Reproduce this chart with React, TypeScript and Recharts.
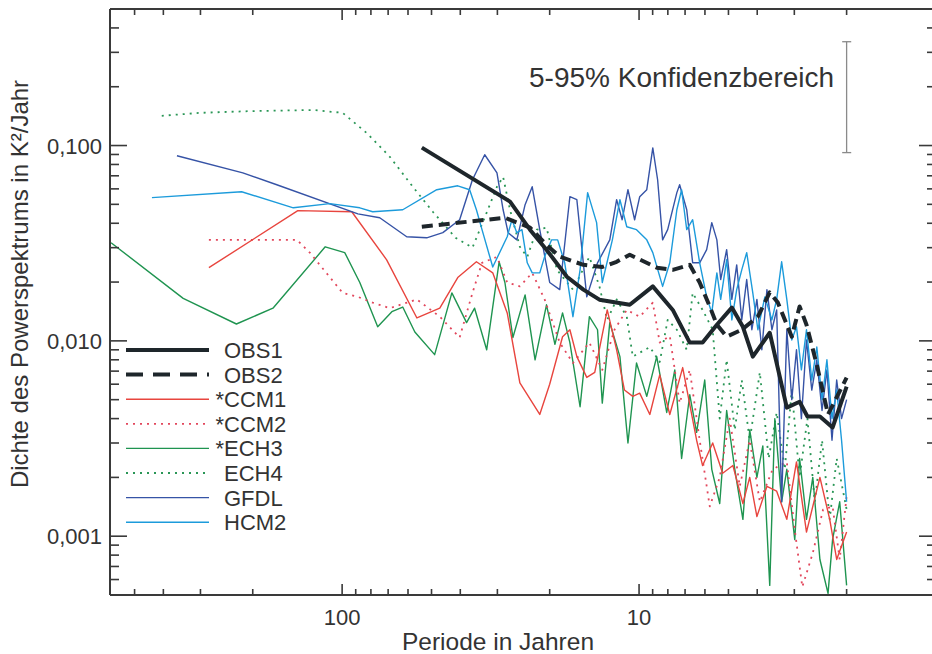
import React from 'react';
import { LineChart, Line, XAxis, YAxis, ReferenceLine, Customized } from 'recharts';

const FONT = '"Liberation Sans", Arial, Helvetica, sans-serif';
const AXIS = '#3a3a3a';
const TXT = '#333333';

// [Periode in Jahren, Dichte des Powerspektrums in K²/Jahr]
const OBS1: [number, number][] = [
  [53.9, 0.0976], [27.2, 0.0516], [23.3, 0.0371], [20.5, 0.0293], [17.5, 0.0213], [15.4, 0.0183],
  [13.6, 0.01625], [10.75, 0.0153], [8.99, 0.019], [7.7, 0.0144], [6.75, 0.0098], [6.11, 0.0098],
  [5.47, 0.0121], [4.87, 0.0148], [4.47, 0.0118], [4.14, 0.0083], [3.63, 0.011], [3.18, 0.00455],
  [2.88, 0.00488], [2.71, 0.0041], [2.46, 0.0041], [2.23, 0.0036], [2.0, 0.00583],
];

const OBS2: [number, number][] = [
  [53.9, 0.0384], [28.3, 0.0427], [23.3, 0.038], [20.5, 0.031], [18.5, 0.027], [15.4, 0.0245],
  [13.3, 0.0239], [11.9, 0.0254], [10.75, 0.0276], [8.71, 0.0237], [7.7, 0.0231], [6.75, 0.0245],
  [6.25, 0.0199], [5.78, 0.015], [5.47, 0.0121], [5.07, 0.0105], [4.51, 0.0114], [3.98, 0.0133],
  [3.63, 0.0177], [3.41, 0.0157], [3.06, 0.0105], [2.88, 0.015], [2.73, 0.0121], [2.52, 0.00755],
  [2.31, 0.0042], [2.0, 0.00648],
];

const CCM1: [number, number][] = [
  [281, 0.0237], [141, 0.0464], [92.8, 0.0458], [70.8, 0.026], [56.0, 0.0131], [46.9, 0.0147],
  [40.8, 0.0211], [35.3, 0.0254], [31.1, 0.0223], [27.8, 0.0139], [25.2, 0.0061], [21.6, 0.0042],
  [20.0, 0.006], [18.1, 0.0105], [17.1, 0.0114], [16.2, 0.0083], [15.0, 0.0065], [14.1, 0.0069],
  [12.8, 0.0144], [11.9, 0.009], [11.2, 0.0056], [10.5, 0.0052], [9.95, 0.0054], [9.2, 0.0042],
  [8.52, 0.0067], [7.88, 0.0042], [7.13, 0.0073], [6.4, 0.0031], [6.11, 0.0023], [5.65, 0.003],
  [5.23, 0.0021], [4.83, 0.0023], [4.47, 0.00147], [4.24, 0.002], [4.01, 0.00126], [3.71, 0.0018],
  [3.44, 0.0017], [3.18, 0.00122], [2.95, 0.0024], [2.73, 0.00105], [2.46, 0.002], [2.28, 0.00122],
  [2.16, 0.00076], [2.0, 0.00105],
];

const CCM2: [number, number][] = [
  [281, 0.0329], [142, 0.0329], [128.5, 0.0283], [99.6, 0.0176], [88.5, 0.0168], [78.9, 0.0157],
  [69.1, 0.0147], [56.0, 0.0163], [46.9, 0.0133], [40.2, 0.0104], [36.4, 0.0176], [33.8, 0.0251],
  [30.1, 0.0269], [27.8, 0.0199], [25.2, 0.019], [22.9, 0.0223], [20.8, 0.0163], [18.5, 0.0098],
  [16.7, 0.0077], [14.7, 0.0098], [13.3, 0.0071], [12.1, 0.0114], [11.0, 0.0144], [9.95, 0.0133],
  [8.99, 0.0157], [8.52, 0.0098], [7.88, 0.0106], [7.3, 0.0048], [6.75, 0.0071], [6.25, 0.0031],
  [5.78, 0.00142], [5.35, 0.002], [4.95, 0.004], [4.58, 0.0018], [4.24, 0.0031], [3.92, 0.0015],
  [3.55, 0.0022], [3.18, 0.0024], [2.99, 0.00108], [2.82, 0.00055], [2.6, 0.00082], [2.4, 0.00137],
  [2.23, 0.00142], [2.11, 0.00076], [2.0, 0.0016],
];

const ECH3: [number, number][] = [
  [600, 0.0318], [343, 0.0165], [227, 0.0122], [171, 0.0147], [114, 0.0303], [98, 0.0283],
  [87.2, 0.0199], [75.9, 0.0118], [68.0, 0.0141], [62.5, 0.0149], [56.9, 0.0111], [48.8, 0.0085],
  [42.7, 0.0176], [38.1, 0.0124], [35.8, 0.0147], [32.6, 0.009], [29.6, 0.0254], [28.3, 0.0199],
  [26.6, 0.0104], [24.2, 0.0172], [22.4, 0.008], [20.5, 0.0153], [19.2, 0.0096], [18.1, 0.0139],
  [17.1, 0.0098], [15.8, 0.0046], [14.7, 0.0133], [13.8, 0.0114], [13.3, 0.0048], [12.55, 0.0124],
  [11.6, 0.0083], [10.9, 0.003], [10.2, 0.0077], [9.42, 0.0052], [8.72, 0.0083], [8.07, 0.0043],
  [7.58, 0.0071], [7.19, 0.0025], [6.75, 0.0053], [6.4, 0.0034], [6.01, 0.0063], [5.69, 0.0022],
  [5.35, 0.00147], [5.07, 0.0044], [4.76, 0.0022], [4.47, 0.00122], [4.24, 0.0035], [4.01, 0.002],
  [3.83, 0.0029], [3.63, 0.00056], [3.49, 0.004], [3.31, 0.0015], [3.18, 0.0022], [2.99, 0.00096],
  [2.88, 0.0025], [2.73, 0.00122], [2.6, 0.002], [2.46, 0.00076], [2.31, 0.00051], [2.23, 0.00096],
  [2.11, 0.0015], [2.0, 0.00056],
];

const ECH4: [number, number][] = [
  [405, 0.142], [301, 0.147], [204, 0.15], [125, 0.152], [99.6, 0.147], [82.7, 0.116],
  [69.1, 0.0876], [57.8, 0.0615], [49.5, 0.0458], [41.5, 0.0337], [36.4, 0.03], [32.6, 0.0453],
  [30.1, 0.0615], [28.7, 0.0691], [27.2, 0.0469], [25.2, 0.0303], [23.8, 0.0269], [22.1, 0.0371],
  [20.5, 0.038], [18.9, 0.0231], [16.7, 0.0183], [14.7, 0.0269], [13.6, 0.019], [12.8, 0.0128],
  [11.9, 0.0163], [11.0, 0.0133], [10.5, 0.0083], [9.2, 0.0093], [8.52, 0.0078], [8.01, 0.0128],
  [7.46, 0.0114], [6.91, 0.009], [6.6, 0.0176], [6.11, 0.0144], [5.65, 0.0114], [5.35, 0.004],
  [5.07, 0.008], [4.76, 0.0035], [4.51, 0.0063], [4.24, 0.0031], [3.92, 0.0069], [3.66, 0.0025],
  [3.44, 0.0043], [3.23, 0.0022], [3.06, 0.0056], [2.88, 0.002], [2.71, 0.004], [2.56, 0.0015],
  [2.42, 0.0031], [2.28, 0.00122], [2.16, 0.0025], [2.0, 0.00137],
];

const GFDL: [number, number][] = [
  [360, 0.0887], [216, 0.0725], [166, 0.063], [88.5, 0.0447], [74.7, 0.0427], [60.6, 0.0341],
  [51.9, 0.0337], [45.8, 0.0358], [40.2, 0.0417], [36.4, 0.0668], [33.1, 0.0897], [30.1, 0.0725],
  [28.7, 0.0469], [27.6, 0.0358], [25.8, 0.0329], [24.2, 0.0498], [22.9, 0.0615], [21.6, 0.0371],
  [20.0, 0.0199], [18.5, 0.0183], [17.1, 0.0547], [16.2, 0.0528], [15.0, 0.0168], [13.8, 0.0251],
  [12.55, 0.0329], [11.9, 0.0528], [11.4, 0.0417], [10.9, 0.0594], [10.35, 0.0417], [9.95, 0.0547],
  [9.42, 0.0594], [8.99, 0.0972], [8.66, 0.0668], [8.33, 0.0329], [8.01, 0.0371], [7.46, 0.0574],
  [7.3, 0.063], [6.91, 0.0469], [6.6, 0.0251], [6.25, 0.0251], [5.92, 0.0293], [5.69, 0.0403],
  [5.47, 0.0329], [5.31, 0.0206], [5.07, 0.0293], [4.87, 0.0163], [4.69, 0.0245], [4.51, 0.0128],
  [4.34, 0.0206], [4.17, 0.0114], [4.01, 0.0163], [3.86, 0.009], [3.71, 0.0183], [3.57, 0.0114],
  [3.44, 0.0144], [3.31, 0.0015], [3.18, 0.0114], [3.06, 0.005], [2.95, 0.009], [2.84, 0.004],
  [2.73, 0.0101], [2.62, 0.0056], [2.52, 0.008], [2.42, 0.0044], [2.33, 0.0071], [2.24, 0.0031],
  [2.16, 0.0063], [2.08, 0.004], [2.0, 0.005],
];

const HCM2: [number, number][] = [
  [437, 0.0541], [218, 0.058], [146, 0.048], [110, 0.0504], [87.2, 0.048], [78.9, 0.0458],
  [62.5, 0.0469], [48.0, 0.0594], [40.8, 0.0622], [37.2, 0.0594], [35.3, 0.0469], [33.8, 0.0371],
  [31.1, 0.0239], [27.8, 0.0341], [26.8, 0.0417], [25.8, 0.0358], [24.8, 0.0371], [23.8, 0.0251],
  [22.9, 0.0223], [21.6, 0.0223], [20.8, 0.027], [19.7, 0.0329], [18.8, 0.0329], [17.8, 0.0251],
  [16.7, 0.0133], [15.8, 0.0231], [14.9, 0.0574], [13.9, 0.0403], [13.3, 0.0199], [12.3, 0.0329],
  [11.6, 0.0528], [11.0, 0.0384], [10.2, 0.0371], [9.42, 0.0329], [8.99, 0.0283], [8.33, 0.019],
  [7.88, 0.0251], [7.46, 0.0469], [7.19, 0.0594], [6.91, 0.0371], [6.6, 0.0417], [6.25, 0.0251],
  [5.92, 0.0168], [5.69, 0.0139], [5.47, 0.0223], [5.31, 0.0163], [5.07, 0.026], [4.87, 0.0128],
  [4.69, 0.0183], [4.51, 0.0231], [4.34, 0.0283], [4.14, 0.0176], [3.98, 0.0114], [3.77, 0.0168],
  [3.57, 0.0128], [3.44, 0.0163], [3.31, 0.0254], [3.18, 0.0163], [3.06, 0.0101], [2.95, 0.0118],
  [2.84, 0.0071], [2.73, 0.0114], [2.62, 0.0063], [2.52, 0.0093], [2.42, 0.005], [2.33, 0.008],
  [2.24, 0.004], [2.16, 0.0056], [2.08, 0.0031], [2.0, 0.0015],
];

// Konfidenzbereich (5-95%)
const CONF_PERIOD = 2.0;
const CONF_LOW = 0.092;
const CONF_HIGH = 0.34;
const CONF_CAP = [2.07, 1.93];

const X_TICKS = [500, 400, 300, 200, 100, 90, 80, 70, 60, 50, 40, 30, 20, 10, 9, 8, 7, 6, 5, 4, 3, 2];
const X_LABELS: Record<string, string> = { '100': '100', '10': '10' };
const Y_TICKS = [
  0.4, 0.3, 0.2, 0.1, 0.09, 0.08, 0.07, 0.06, 0.05, 0.04, 0.03, 0.02,
  0.01, 0.009, 0.008, 0.007, 0.006, 0.005, 0.004, 0.003, 0.002,
  0.001, 0.0009, 0.0008, 0.0007, 0.0006,
];
const Y_LABELS: Record<string, string> = { '0.1': '0,100', '0.01': '0,010', '0.001': '0,001' };

const toPts = (arr: [number, number][]) => arr.map(([p, v]) => ({ p, v }));

type Style = { key: string; label: string; star: boolean; color: string; width: number; dash?: string; legendDash?: string; data: [number, number][] };

const SERIES: Style[] = [
  { key: 'ech4', label: 'ECH4', star: false, color: '#2a9656', width: 1.8, dash: '2 5', legendDash: '2 5', data: ECH4 },
  { key: 'ech3', label: 'ECH3', star: true, color: '#1f9450', width: 1.4, data: ECH3 },
  { key: 'ccm2', label: 'CCM2', star: true, color: '#e2475c', width: 1.8, dash: '2 5', legendDash: '2 5', data: CCM2 },
  { key: 'ccm1', label: 'CCM1', star: true, color: '#e8453e', width: 1.4, data: CCM1 },
  { key: 'gfdl', label: 'GFDL', star: false, color: '#3653a6', width: 1.4, data: GFDL },
  { key: 'hcm2', label: 'HCM2', star: false, color: '#1c9bdb', width: 1.4, data: HCM2 },
  { key: 'obs2', label: 'OBS2', star: false, color: '#1e262b', width: 4, dash: '11 6', legendDash: '17 10', data: OBS2 },
  { key: 'obs1', label: 'OBS1', star: false, color: '#1e262b', width: 4, data: OBS1 },
];
const LEGEND_ORDER = ['obs1', 'obs2', 'ccm1', 'ccm2', 'ech3', 'ech4', 'gfdl', 'hcm2'];

const XTickBottom = (props: any) => {
  const { x, y, payload } = props;
  const lab = X_LABELS[String(payload.value)];
  const len = lab ? 11 : 6;
  return (
    <g>
      <line x1={x} y1={y} x2={x} y2={y - len} stroke={AXIS} strokeWidth={1.6} />
      {lab && (
        <text x={x} y={y + 30} textAnchor="middle" fontSize={22} fill={TXT} fontFamily={FONT}>{lab}</text>
      )}
    </g>
  );
};

const XTickTop = (props: any) => {
  const { x, y, payload } = props;
  const lab = X_LABELS[String(payload.value)];
  const len = lab ? 11 : 6;
  return <line x1={x} y1={y} x2={x} y2={y + len} stroke={AXIS} strokeWidth={1.6} />;
};

const YTickLeft = (props: any) => {
  const { x, y, payload } = props;
  const lab = Y_LABELS[String(payload.value)];
  const len = lab ? 17 : 9;
  return (
    <g>
      <line x1={x} y1={y} x2={x + len} y2={y} stroke={AXIS} strokeWidth={1.6} />
      {lab && (
        <text x={x - 8} y={y + 8} textAnchor="end" fontSize={22} fill={TXT} fontFamily={FONT}>{lab}</text>
      )}
    </g>
  );
};

const YTickRight = (props: any) => {
  const { x, y, payload } = props;
  const lab = Y_LABELS[String(payload.value)];
  const len = lab ? 17 : 9;
  return <line x1={x} y1={y} x2={x - len} y2={y} stroke={AXIS} strokeWidth={1.6} />;
};

const Overlay = () => {
  const items = LEGEND_ORDER.map((k) => SERIES.find((s) => s.key === k)!);
  return (
    <g fontFamily={FONT}>
      <text x={529} y={87} fontSize={28} fill={TXT}>5-95% Konfidenzbereich</text>
      <text x={498} y={650} fontSize={24.5} fill={TXT} textAnchor="middle">Periode in Jahren</text>
      <text x={28} y={284} fontSize={24} fill={TXT} textAnchor="middle" transform="rotate(-90 28 284)">
        Dichte des Powerspektrums in K²/Jahr
      </text>
      {items.map((s, i) => {
        const ly = 350 + i * 24.6;
        return (
          <g key={s.key}>
            <line x1={126} y1={ly} x2={209} y2={ly} stroke={s.color} strokeWidth={s.width}
              strokeDasharray={s.legendDash} />
            {s.star && (
              <text x={224} y={ly + 8} fontSize={22} fill={TXT} textAnchor="end">*</text>
            )}
            <text x={224} y={ly + 8} fontSize={22} fill={TXT}>{s.label}</text>
          </g>
        );
      })}
    </g>
  );
};

export default function App() {
  return (
    <div style={{ position: 'absolute', left: 0, top: 0, width: 932, height: 654, overflow: 'hidden', background: '#fff' }}>
      <LineChart width={940} height={654} margin={{ top: 0, right: 0, bottom: 0, left: 0 }}>
        <XAxis xAxisId="b" orientation="bottom" type="number" dataKey="p" scale="log" domain={[1, 605]}
          allowDataOverflow reversed height={59} ticks={X_TICKS} interval={0} tickSize={0} tickMargin={0}
          tickLine={false} tick={<XTickBottom />} axisLine={{ stroke: AXIS, strokeWidth: 2 }} />
        <XAxis xAxisId="t" orientation="top" type="number" dataKey="p" scale="log" domain={[1, 605]}
          allowDataOverflow reversed height={9} ticks={X_TICKS} interval={0} tickSize={0} tickMargin={0}
          tickLine={false} tick={<XTickTop />} axisLine={{ stroke: AXIS, strokeWidth: 2 }} />
        <YAxis yAxisId="l" orientation="left" type="number" dataKey="v" scale="log" domain={[0.0005, 0.5]}
          allowDataOverflow width={110} ticks={Y_TICKS} interval={0} tickSize={0} tickMargin={0}
          tickLine={false} tick={<YTickLeft />} axisLine={{ stroke: AXIS, strokeWidth: 2 }} />
        <YAxis yAxisId="r" orientation="right" type="number" dataKey="v" scale="log" domain={[0.0005, 0.5]}
          allowDataOverflow width={4} ticks={Y_TICKS} interval={0} tickSize={0} tickMargin={0}
          tickLine={false} tick={<YTickRight />} axisLine={{ stroke: AXIS, strokeWidth: 2 }} />
        {SERIES.map((s) => (
          <Line key={s.key} xAxisId="b" yAxisId="l" data={toPts(s.data)} dataKey="v" type="linear"
            stroke={s.color} strokeWidth={s.width} strokeDasharray={s.dash} dot={false}
            activeDot={false} isAnimationActive={false} strokeLinejoin="round" />
        ))}
        <ReferenceLine xAxisId="b" yAxisId="l" segment={[{ x: CONF_PERIOD, y: CONF_LOW }, { x: CONF_PERIOD, y: CONF_HIGH }]}
          stroke="#8a8a8a" strokeWidth={1.3} />
        <ReferenceLine xAxisId="b" yAxisId="l" segment={[{ x: CONF_CAP[0], y: CONF_HIGH }, { x: CONF_CAP[1], y: CONF_HIGH }]}
          stroke="#8a8a8a" strokeWidth={1.3} />
        <ReferenceLine xAxisId="b" yAxisId="l" segment={[{ x: CONF_CAP[0], y: CONF_LOW }, { x: CONF_CAP[1], y: CONF_LOW }]}
          stroke="#8a8a8a" strokeWidth={1.3} />
        <Customized component={<Overlay />} />
      </LineChart>
    </div>
  );
}
